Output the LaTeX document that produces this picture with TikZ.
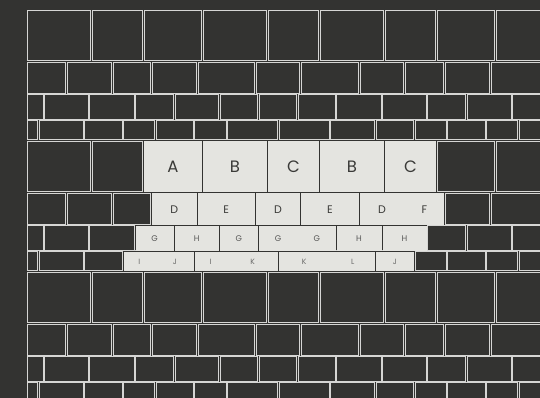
\documentclass[tikz,border=0pt]{standalone}
\usepackage{fontspec}
\setmainfont{Poppins}
\definecolor{bg}{HTML}{333331}
\definecolor{lite}{HTML}{E4E4E0}
\definecolor{edge}{HTML}{D6D6D4}
\definecolor{ink}{HTML}{3A3A38}
\tikzset{
  darkcell/.style={draw=edge, line width=0.85pt},
  litecell/.style={fill=lite, draw=lite, line width=0.6pt},
  lbig/.style={anchor=base, text=ink, inner sep=0pt, font=\fontsize{16.5}{16.5}\selectfont},
  lmid/.style={anchor=base, text=ink, inner sep=0pt, font=\fontsize{11}{11}\selectfont},
  lsmall/.style={anchor=base, text=ink!85!white, inner sep=0pt, font=\fontsize{8.2}{8.2}\selectfont},
  ltiny/.style={anchor=base, text=ink!75!white, inner sep=0pt, font=\fontsize{7.6}{7.6}\selectfont}
}
\newcommand{\litebox}[4]{\path[litecell] (#1+0.8,#3) rectangle (#2-0.8,#4);}
\newcommand{\blankrow}[4]{\fill[bg] (#1,#3-0.45) rectangle (#2,#4+0.45);}
\begin{document}
\begin{tikzpicture}[x=1pt,y=-1pt]
\fill[bg] (0,0) rectangle (540,398);
\useasboundingbox (0,0) rectangle (540,398);
\clip (0,0) rectangle (540,398);
\foreach \b in {10,141,272}{
  \foreach \x [remember=\x as \lx (initially 26.7)] in {91.5,143.2,202.5,267.5,319.5,384.5,436.5,495.5,560}
    {\draw[darkcell] (\lx+0.8,\b+0.3) rectangle (\x-0.8,\b+50.6);}
  \foreach \x [remember=\x as \lx (initially 26.7)] in {66.5,112.3,151.2,197.2,255.3,300.5,359.2,404.7,444.3,490.2,560}
    {\draw[darkcell] (\lx+0.8,\b+52.2) rectangle (\x-0.8,\b+83);}
  \foreach \x [remember=\x as \lx (initially 26.7)] in {44,89,135,174.3,219.3,258.5,297.7,336,382,427,466.5,512,560}
    {\draw[darkcell] (\lx+0.8,\b+84.8) rectangle (\x-0.8,\b+109);}
  \foreach \x [remember=\x as \lx (initially 26.7)] in {38.5,84,123,155.7,194,227,278.3,330,375.5,414.5,446.8,486,518.5,560}
    {\draw[darkcell] (\lx+0.8,\b+110.8) rectangle (\x-0.8,\b+129.5);}
}
% clear the grid under the highlighted cells
\blankrow{143.2}{436.5}{141.3}{191}
\blankrow{151.2}{444.3}{193.2}{224}
\blankrow{135}{427}{225.8}{250}
\blankrow{123}{414.5}{251.8}{270.5}
% row A-C
\litebox{143.2}{202.5}{141.3}{191}
\litebox{202.5}{267.5}{141.3}{191}
\litebox{267.5}{319.5}{141.3}{191}
\litebox{319.5}{384.5}{141.3}{191}
\litebox{384.5}{436.5}{141.3}{191}
\node[lbig] (a1) at (172.85,172.3) {A};
\node[lbig] (b1) at (235,172.3) {B};
\node[lbig] (c1) at (293.5,172.3) {C};
\node[lbig] (b2) at (352,172.3) {B};
\node[lbig] (c2) at (410.5,172.3) {C};
% row D-F
\litebox{151.2}{197.2}{193.2}{224}
\litebox{197.2}{255.3}{193.2}{224}
\litebox{255.3}{300.5}{193.2}{224}
\litebox{300.5}{359.2}{193.2}{224}
\litebox{359.2}{404.7}{193.2}{224}
\litebox{404.7}{444.3}{193.2}{224}
\node[lmid] (d1) at (174.2,213) {D};
\node[lmid] (e1) at (226.25,213) {E};
\node[lmid] (d2) at (277.9,213) {D};
\node[lmid] (e2) at (329.85,213) {E};
\node[lmid] (d3) at (381.95,213) {D};
\node[lmid] (f1) at (424.5,213) {F};
% row G-H
\litebox{135}{174.3}{225.8}{250}
\litebox{174.3}{219.3}{225.8}{250}
\litebox{219.3}{258.5}{225.8}{250}
\litebox{258.5}{297.7}{225.8}{250}
\litebox{297.7}{336}{225.8}{250}
\litebox{336}{382}{225.8}{250}
\litebox{382}{427}{225.8}{250}
\node[lsmall] (g1) at (154.65,241) {G};
\node[lsmall] (h1) at (196.8,241) {H};
\node[lsmall] (g2) at (238.9,241) {G};
\node[lsmall] (g3) at (278.1,241) {G};
\node[lsmall] (g4) at (316.85,241) {G};
\node[lsmall] (h2) at (359,241) {H};
\node[lsmall] (h3) at (404.5,241) {H};
% row I-L
\litebox{123}{155.7}{251.8}{270.5}
\litebox{155.7}{194}{251.8}{270.5}
\litebox{194}{278.3}{251.8}{270.5}
\litebox{278.3}{375.5}{251.8}{270.5}
\litebox{375.5}{414.5}{251.8}{270.5}
\node[ltiny] (i1) at (139.35,264.3) {I};
\node[ltiny] (j1) at (174.85,264.3) {J};
\node[ltiny] (i2) at (210.5,264.3) {I};
\node[ltiny] (k1) at (252.65,264.3) {K};
\node[ltiny] (k2) at (304.15,264.3) {K};
\node[ltiny] (l1) at (352.75,264.3) {L};
\node[ltiny] (j2) at (395,264.3) {J};
\end{tikzpicture}
\end{document}
